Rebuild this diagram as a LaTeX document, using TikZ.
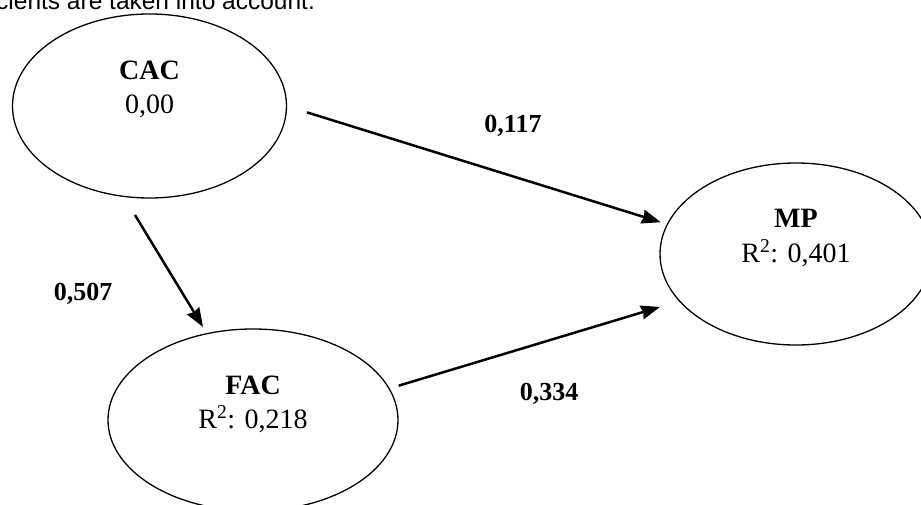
\documentclass[tikz,border=0pt]{standalone}
\usepackage{fontspec}
\setmainfont{Liberation Serif}
\newfontfamily\arialfont{Liberation Sans}
\usetikzlibrary{shapes.geometric, arrows.meta}

\begin{document}
\begin{tikzpicture}[x=1pt, y=-1pt, >={Stealth[length=19pt, width=14pt, inset=1.5pt]},
    latent/.style={draw, ellipse, line width=1.3pt, inner sep=0pt, outer sep=0pt},
    vartext/.style={anchor=base, inner sep=0pt, font=\fontsize{28}{34}\selectfont},
    coef/.style={anchor=base, inner sep=0pt, font=\fontsize{26}{31}\selectfont\bfseries},
    effect/.style={->, line width=2.5pt}]

    % Khung hình
    \useasboundingbox (0,0) rectangle (921,505);
    \clip (0,0) rectangle (921,505);

    % 1. Dòng chữ phía trên (bị cắt)
    \node[anchor=base west, inner sep=0pt, font=\arialfont\fontsize{24.5}{29}\selectfont] (caption) at (-4,10) {cients are taken into account.};

    % Macro vẽ biến tiềm ẩn
    % \drawlatent{tên}{x}{y}{rx}{ry}{nhãn}{giá trị}
    \newcommand{\drawlatent}[7]{
        \node[latent, minimum width=2*#4, minimum height=2*#5] (#1) at (#2,#3) {};
        \node[vartext] (#1name) at (#2,#3-26) {\textbf{#6}};
        \node[vartext] (#1val) at (#2,#3+8) {#7};
    }

    % 2. Các biến
    \drawlatent{cac}{149.5}{106}{137}{92}{CAC}{0,00}
    \drawlatent{mp}{796}{254}{136}{91}{MP}{R\textsuperscript{2}: 0,401}
    \drawlatent{fac}{253}{420}{145}{91}{FAC}{R\textsuperscript{2}: 0,218}

    % 3. Các mũi tên
    \draw[effect, shorten <=21.5pt, shorten >=7pt] (cac.0) -- (mp.167);
    \draw[effect, shorten <=21.8pt, shorten >=7.8pt] (cac.-106) -- (fac.118);
    \draw[effect, shorten <=10pt, shorten >=20.5pt] (fac.13) -- (mp.202);

    % 4. Hệ số đường dẫn
    \node[coef] (b117) at (513,133) {0,117};
    \node[coef] (b507) at (83,300) {0,507};
    \node[coef] (b334) at (549,400) {0,334};

\end{tikzpicture}
\end{document}
